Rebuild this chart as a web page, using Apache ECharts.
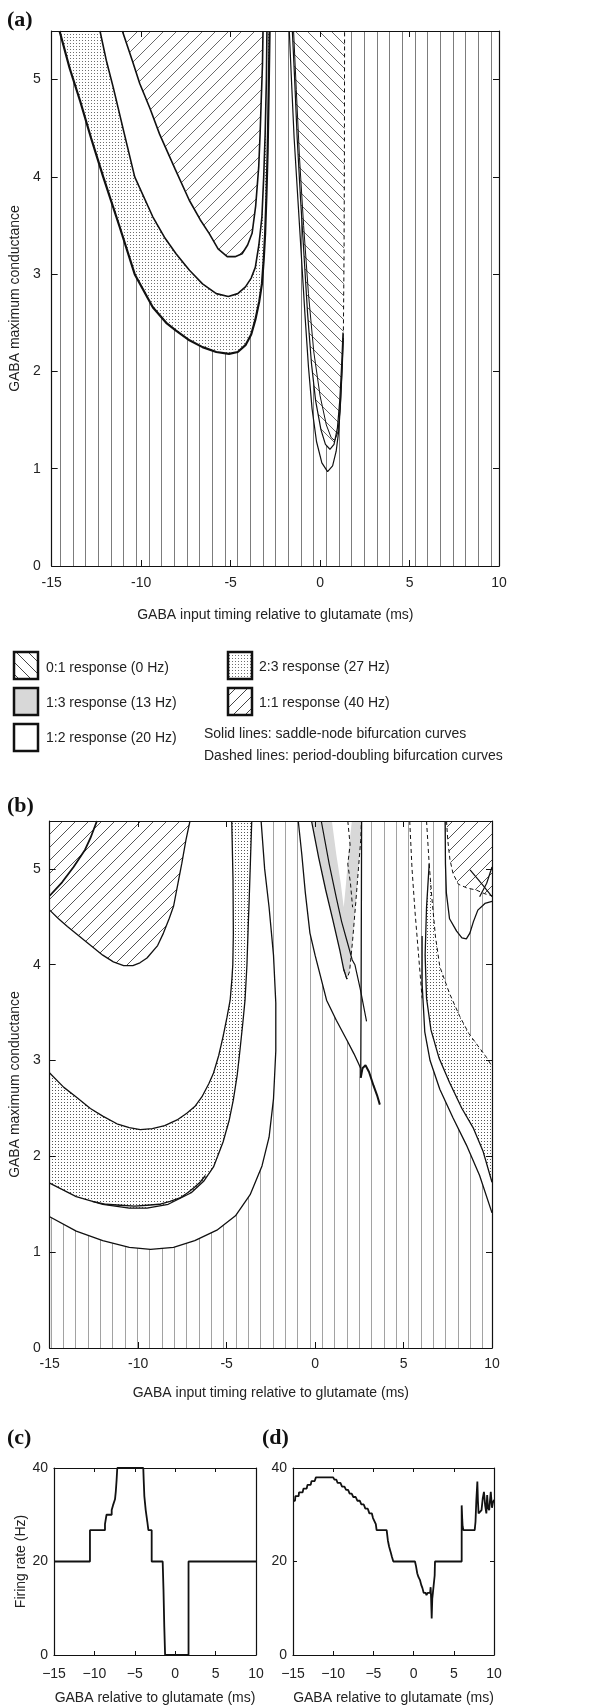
<!DOCTYPE html>
<html>
<head>
<meta charset="utf-8">
<script src="https://cdn.jsdelivr.net/npm/echarts@6/dist/echarts.min.js"></script>
<style>
html, body { margin: 0; padding: 0; background: #fff; }
#main { width: 616px; height: 1708px; }
</style>
</head>
<body>
<div id="main"></div>
<script>
// axis ranges
var xMin = -15, xMax = 10, gMax = 5.5, rateMax = 40;

// ---- panel (a): bifurcation curves, [timing ms, conductance] ----
var aOuter = [[-14.56,5.5],[-14.0,5.12],[-13.41,4.78],[-12.8,4.4],[-12.12,4.0],[-11.19,3.48],[-10.36,3.0],[-9.35,2.66],[-8.6,2.5],[-8.05,2.42],[-7.3,2.32],[-6.57,2.25],[-5.8,2.2],[-5.09,2.18],[-4.6,2.2],[-4.17,2.27],[-3.85,2.38],[-3.62,2.53],[-3.4,2.72],[-3.25,2.9],[-3.15,3.15],[-3.07,3.42],[-3.0,3.8],[-2.93,4.27],[-2.87,4.9],[-2.82,5.5]];
var aMid = [[-12.3,5.5],[-11.95,5.2],[-11.56,4.92],[-10.95,4.45],[-10.36,4.0],[-9.35,3.59],[-8.7,3.38],[-8.05,3.21],[-7.3,3.04],[-6.57,2.9],[-5.8,2.8],[-5.13,2.77],[-4.6,2.8],[-4.17,2.87],[-3.85,2.96],[-3.62,3.07],[-3.42,3.3],[-3.25,3.59],[-3.15,4.0],[-3.07,4.44],[-3.0,5.0],[-2.97,5.5]];
var aInner = [[-11.05,5.5],[-10.5,5.2],[-10.08,4.96],[-9.5,4.7],[-8.97,4.44],[-8.1,4.08],[-7.31,3.76],[-6.7,3.56],[-6.2,3.42],[-5.7,3.26],[-5.19,3.18],[-4.75,3.18],[-4.36,3.21],[-4.05,3.3],[-3.8,3.42],[-3.6,3.7],[-3.43,4.1],[-3.35,4.45],[-3.29,4.78],[-3.22,5.15],[-3.19,5.5]];
var aV1 = [[-1.72,5.5],[-1.6,5.0],[-1.45,4.4],[-1.25,3.8],[-1.05,3.2],[-0.85,2.6],[-0.65,2.05],[-0.45,1.62],[-0.2,1.28],[0.1,1.06],[0.42,0.97],[0.7,1.03],[0.9,1.18],[1.05,1.4],[1.15,1.7],[1.24,2.05],[1.3,2.35]];
var aV2 = [[-1.55,5.5],[-1.42,5.0],[-1.28,4.4],[-1.1,3.8],[-0.9,3.2],[-0.7,2.6],[-0.48,2.08],[-0.25,1.7],[0.05,1.4],[0.3,1.25],[0.55,1.2],[0.78,1.25],[0.97,1.42],[1.1,1.7],[1.2,2.05],[1.28,2.4]];
var aV3 = [[-1.48,5.5],[-1.33,4.9],[-1.15,4.2],[-0.92,3.5],[-0.65,2.8],[-0.35,2.2],[0.0,1.75],[0.35,1.45],[0.62,1.32],[0.82,1.29],[1.0,1.38],[1.12,1.6],[1.22,1.98],[1.3,2.35]];
var aDash = [[1.3,2.35],[1.34,3.2],[1.36,4.2],[1.37,5.5]];

// ---- panel (b) ----
var bLowest = [[-15,1.37],[-13.5,1.22],[-12,1.12],[-10.5,1.05],[-9.3,1.03],[-8,1.05],[-6.8,1.12],[-5.55,1.23],[-4.5,1.38],[-3.67,1.6],[-3.0,1.9],[-2.6,2.2],[-2.35,2.6],[-2.22,3.1],[-2.22,3.6],[-2.35,4.1],[-2.6,4.6],[-2.85,5.0],[-3.05,5.5]];
var bLow = [[-15,1.72],[-13.5,1.58],[-12,1.5],[-10.5,1.46],[-9.5,1.46],[-8.3,1.5],[-7,1.62],[-6.3,1.74],[-5.74,1.89],[-5.2,2.15],[-4.85,2.38],[-4.62,2.59],[-4.4,2.85],[-4.25,3.1],[-4.08,3.4],[-3.96,3.63],[-3.85,4.0],[-3.78,4.4],[-3.72,4.7],[-3.65,5.1],[-3.58,5.5]];
var bUp = [[-15,2.87],[-14.2,2.72],[-13.5,2.62],[-12.7,2.5],[-12,2.42],[-11.2,2.34],[-10.5,2.3],[-9.88,2.28],[-9.2,2.29],[-8.5,2.32],[-7.8,2.38],[-7.25,2.45],[-6.8,2.52],[-6.4,2.62],[-6.0,2.76],[-5.74,2.87],[-5.45,3.05],[-5.2,3.25],[-4.98,3.45],[-4.8,3.63],[-4.7,3.85],[-4.65,4.0],[-4.62,4.33],[-4.64,4.9],[-4.71,5.5]];
var bHatch = [[-15,4.57],[-14.5,4.48],[-14,4.4],[-13.08,4.26],[-12,4.1],[-11.4,4.03],[-10.82,3.99],[-10.3,3.99],[-9.9,4.02],[-9.5,4.07],[-8.9,4.2],[-8.57,4.33],[-8.25,4.48],[-8.0,4.61],[-7.75,4.85],[-7.53,5.06],[-7.3,5.3],[-7.07,5.5]];
var bHatchLine = [[-12.33,5.5],[-12.7,5.32],[-13.0,5.2],[-13.65,5.02],[-14.3,4.86],[-15,4.72]];
var bInner = [[-12.6,1.53],[-11.8,1.5],[-11,1.49],[-10.2,1.48],[-9.5,1.49],[-8.8,1.5],[-8.2,1.53],[-7.6,1.57],[-7.2,1.62],[-6.8,1.68],[-6.5,1.73],[-6.2,1.8]];
var bM2 = [[-0.95,5.5],[-0.75,5.15],[-0.55,4.75],[-0.29,4.33],[0.0,4.1],[0.25,3.92],[0.65,3.63],[1.2,3.42],[1.78,3.22],[2.2,3.07],[2.58,2.92]];
var bVert = [[2.63,5.5],[2.62,4.8],[2.61,4.2],[2.6,3.6],[2.59,3.2],[2.58,2.82]];
var bM2Tail = [[2.58,2.82],[2.68,2.92],[2.85,2.95],[3.05,2.88],[3.3,2.74],[3.5,2.64],[3.66,2.54]];
var bThin = [[2.25,4.0],[2.55,3.75],[2.91,3.41]];
var bGray = [[-0.2,5.5],[0.2,5.12],[0.6,4.78],[1.0,4.47],[1.4,4.15],[1.62,3.95],[1.8,3.85],[1.95,3.93],[2.12,4.25],[2.3,4.65],[2.45,5.0],[2.58,5.3],[2.62,5.5]];
var bGrayHole = [[0.95,5.5],[1.2,5.15],[1.45,4.85],[1.62,4.6],[1.75,4.85],[1.9,5.2],[2.08,5.5]];
var bGrayLine = [[0.35,5.5],[0.8,5.05],[1.2,4.7],[1.5,4.45],[1.8,4.25],[2.1,4.05],[2.25,4.0]];
var bGrayDash = [[1.85,5.5],[1.98,5.25],[1.85,5.05],[2.0,4.85],[2.12,4.6]];
var bRDash = [[5.35,5.5],[5.48,5.0],[5.65,4.55],[5.85,4.1],[6.05,3.65]];
var bRTipDash = [[6.3,5.5],[6.45,5.05]];
var bRDotLower = [[6.45,5.05],[6.3,4.6],[6.22,4.1],[6.3,3.65],[6.55,3.32],[7.0,3.03],[7.6,2.77],[8.3,2.5],[8.93,2.3],[9.5,2.05],[10,1.73]];
var bRDotUpper = [[6.45,5.05],[6.6,4.7],[6.8,4.3],[7.05,3.98],[7.6,3.7],[8.18,3.46],[8.7,3.28],[9.3,3.13],[9.7,3.03],[10,2.94]];
var bRLowest = [[6.05,4.3],[6.05,3.8],[6.2,3.3],[6.5,3.0],[7.05,2.7],[7.8,2.4],[8.55,2.12],[9.3,1.8],[10,1.41]];
var bRHatch = [[7.43,5.5],[7.5,5.3],[7.62,5.1],[7.8,4.95],[8.1,4.84],[8.6,4.8],[9.1,4.78],[9.6,4.74],[10,4.72]];
var bRWave = [[7.35,5.5],[7.37,5.05],[7.42,4.75],[7.6,4.48],[8.0,4.35],[8.3,4.28],[8.55,4.27],[8.75,4.33],[8.95,4.45],[9.2,4.57],[9.6,4.64],[10,4.66]];
var bRX1 = [[8.76,4.99],[9.4,4.85],[10,4.71]];
var bRX2 = [[9.3,4.71],[9.7,4.85],[10,5.02]];

// ---- panel (c) and (d): firing rate (Hz) against timing (ms) ----
var cX = [-15,-10.55,-10.55,-8.69,-8.69,-8.5,-8.5,-7.86,-7.86,-7.7,-7.7,-7.52,-7.45,-7.35,-7.25,-7.17,-3.95,-3.9,-3.82,-3.65,-3.45,-3.32,-2.91,-2.91,-1.55,-1.45,-1.35,-1.25,1.65,1.65,10];
var cY = [20,20,26.7,26.7,28,28,30,30,31,31,32,32,33.3,35,37.5,40,40,37.5,34,31,28.5,26.7,26.7,20,20,14,6,0,0,20,20];
var dX = [-15,-14.75,-14.7,-14.3,-14.25,-13.8,-13.7,-13.3,-13.2,-12.8,-12.7,-12.3,-12.15,-10.0,-9.85,-9.6,-9.45,-9.1,-8.9,-8.6,-8.4,-8.15,-7.95,-7.7,-7.5,-7.2,-7.0,-6.7,-6.5,-6.2,-6.0,-5.7,-5.5,-5.2,-5.05,-4.85,-4.7,-4.6,-3.35,-3.2,-3.05,-2.85,-2.7,-2.52,0.17,0.3,0.45,0.6,0.8,0.95,1.1,1.25,1.5,1.6,1.75,2.05,2.12,2.18,2.25,2.32,2.4,2.55,2.62,2.66,5.98,5.98,6.05,6.1,6.2,7.6,7.7,7.8,7.93,8.0,8.08,8.3,8.45,8.6,8.75,8.9,9.05,9.15,9.25,9.4,9.5,9.6,9.75,9.85,10];
var dY = [33,33,34,34,34.8,34.8,35.6,35.6,36.4,36.4,37.2,37.2,38,38,37.5,37.5,36.8,36.8,36,36,35.3,35.3,34.5,34.5,33.8,33.8,33,33,32.2,32.2,31.3,31.3,30.3,30.3,29.3,29.3,28,26.7,26.7,24.5,23.2,22,21,20,20,19,17.5,16.7,16,15,14.3,13.3,13.3,12.8,13.3,13.3,14.5,12,7.8,12,13.3,13.3,17,20,20,32,29,27.5,26.7,26.7,28.5,33,37.1,33,30.3,30.3,31,33.5,34.9,32,30.3,34.2,31.5,31,33,34.9,31.5,32.5,33.2];

var FONT = '"Liberation Sans", Arial, sans-serif';
var SERIF = '"Liberation Serif", "Times New Roman", serif';

// fill patterns
function pattern(w, h, draw) {
	var c = document.createElement('canvas');
	c.width = w;
	c.height = h;
	var ctx = c.getContext('2d');
	ctx.fillStyle = '#fff';
	ctx.fillRect(0, 0, w, h);
	draw(ctx);
	return { image: c, repeat: 'repeat' };
}
function vlines(w, xs, color) {
	return pattern(w, 4, function(ctx) {
		ctx.fillStyle = color;
		xs.forEach(function(x) { ctx.fillRect(x, 0, 1, 4); });
	});
}
function dots(color) {
	return pattern(3, 3, function(ctx) {
		ctx.fillStyle = color;
		ctx.fillRect(1, 1, 1, 1);
	});
}
function diag(size, color, forward) {
	return pattern(size, size, function(ctx) {
		ctx.strokeStyle = color;
		ctx.lineWidth = 1;
		ctx.beginPath();
		for (var k = -1; k <= 1; k++) {
			if (forward) {
				ctx.moveTo(k * size - 1, size + 1);
				ctx.lineTo(k * size + size + 1, -1);
			} else {
				ctx.moveTo(k * size - 1, -1);
				ctx.lineTo(k * size + size + 1, size + 1);
			}
		}
		ctx.stroke();
	});
}
var vlinesA = vlines(38, [9, 22, 35], '#7c7c7c');
var vlinesB = vlines(37, [1, 14, 26], '#a2a2a2');
var dotsA = dots('#6e6e6e');
var dotsB = dots('#555');
var fwdA = diag(13, '#6a6a6a', true);
var fwdB = diag(13, '#555', true);
var backA = diag(12, '#6a6a6a', false);
var grayFill = '#d8d8d8';

function rev(a) { return a.slice().reverse(); }
function atTop(x) { return [x, gMax]; }
var fullBox = [[xMin, 0], [xMax, 0], [xMax, gMax], [xMin, gMax]];

var regionsA = [
	{ pts: fullBox, fill: vlinesA },
	{ pts: aOuter, fill: dotsA },
	{ pts: aMid, fill: '#fff' },
	{ pts: aInner, fill: fwdA },
	{ pts: aV2.concat(aDash), fill: backA }
];
var regionsB = [
	{ pts: fullBox, fill: vlinesB },
	{ pts: [atTop(xMin)].concat(bLowest), fill: '#fff' },
	{ pts: [atTop(xMin)].concat(bLow), fill: dotsB },
	{ pts: [atTop(xMin)].concat(bUp), fill: '#fff' },
	{ pts: [atTop(xMin)].concat(bHatch), fill: fwdB },
	{ pts: bM2.concat(rev(bVert)), fill: '#fff' },
	{ pts: bGray, fill: grayFill },
	{ pts: bGrayHole, fill: '#fff' },
	{ pts: bRLowest.concat(rev(bRDotLower)), fill: '#fff' },
	{ pts: bRDotLower.concat(rev(bRDotUpper)), fill: dotsB },
	{ pts: bRHatch.concat([atTop(xMax)]), fill: fwdB }
];

function regionSeries(g, regions) {
	return {
		type: 'custom',
		xAxisIndex: g * 2,
		yAxisIndex: g * 2,
		silent: true,
		clip: true,
		z: 1,
		data: regions.map(function(r, i) { return [i]; }),
		renderItem: function(params, api) {
			var r = regions[params.dataIndex];
			return {
				type: 'polygon',
				shape: { points: r.pts.map(function(p) { return api.coord(p); }) },
				style: { fill: r.fill, stroke: null }
			};
		}
	};
}
function curve(g, pts, w, dashed) {
	return {
		type: 'line',
		xAxisIndex: g * 2,
		yAxisIndex: g * 2,
		data: pts,
		symbol: 'none',
		silent: true,
		clip: true,
		z: 3,
		lineStyle: { color: '#111', width: w, type: dashed ? [4, 3] : 'solid' }
	};
}
function zip(xs, ys) {
	return xs.map(function(x, i) { return [x, ys[i]]; });
}

var labelStyle = { fontSize: 14, color: '#222', fontFamily: FONT };
var nameStyle = { fontSize: 14, color: '#222', fontFamily: FONT };
var axisLine = { onZero: false, lineStyle: { color: '#111', width: 1.2 } };
function minusFmt(v) { return v < 0 ? '\u2212' + (-v) : String(v); }

function xPair(g, name, gap, margin, tickLen, fmt) {
	var lbl = Object.assign({ margin: margin }, labelStyle);
	if (fmt) lbl.formatter = fmt;
	return [{
		gridIndex: g, type: 'value', min: xMin, max: xMax, interval: 5, position: 'bottom', z: 10,
		axisLine: axisLine,
		axisTick: { inside: true, length: tickLen, lineStyle: { color: '#111' } },
		axisLabel: lbl,
		splitLine: { show: false },
		name: name, nameLocation: 'middle', nameGap: gap, nameTextStyle: nameStyle
	}, {
		gridIndex: g, type: 'value', min: xMin, max: xMax, interval: 5, position: 'top', z: 10,
		axisLine: axisLine,
		axisTick: { inside: true, length: tickLen, lineStyle: { color: '#111' } },
		axisLabel: { show: false },
		splitLine: { show: false }
	}];
}
function yPair(g, max, step, name, gap, margin, tickLen) {
	return [{
		gridIndex: g, type: 'value', min: 0, max: max, interval: step, position: 'left', z: 10,
		axisLine: axisLine,
		axisTick: { inside: true, length: tickLen, lineStyle: { color: '#111' } },
		axisLabel: Object.assign({ margin: margin, showMaxLabel: max % step === 0 }, labelStyle),
		splitLine: { show: false },
		name: name, nameLocation: 'middle', nameGap: gap, nameTextStyle: nameStyle
	}, {
		gridIndex: g, type: 'value', min: 0, max: max, interval: step, position: 'right', z: 10,
		axisLine: axisLine,
		axisTick: { inside: true, length: tickLen, lineStyle: { color: '#111' } },
		axisLabel: { show: false },
		splitLine: { show: false }
	}];
}

var xTitle = 'GABA input timing relative to glutamate (ms)';
var xTitleShort = 'GABA relative to glutamate (ms)';
var yTitle = 'GABA maximum conductance';

var series = [
	regionSeries(0, regionsA),
	curve(0, aOuter, 2.2), curve(0, aMid, 1.6), curve(0, aInner, 1.6),
	curve(0, aV1, 1.2), curve(0, aV2, 1.2), curve(0, aV3, 1), curve(0, aDash, 1, true),

	regionSeries(1, regionsB),
	curve(1, bLowest, 1.3), curve(1, bLow, 1.3), curve(1, bUp, 1.3), curve(1, bHatch, 1.3),
	curve(1, bHatchLine, 1.8), curve(1, bInner, 1.3), curve(1, bM2, 1.3), curve(1, bVert, 1.3),
	curve(1, bM2Tail, 2), curve(1, bThin, 1.2),
	curve(1, bGray.slice(0, 7), 1.3), curve(1, bGray.slice(5), 1, true),
	curve(1, bGrayLine, 1.2), curve(1, bGrayDash, 1, true),
	curve(1, bRDash, 1, true), curve(1, bRTipDash, 1, true),
	curve(1, bRDotLower, 1.3), curve(1, bRDotUpper, 1, true), curve(1, bRLowest, 1.3),
	curve(1, bRHatch, 1, true), curve(1, bRWave, 1.3), curve(1, bRX1, 1.2), curve(1, bRX2, 1.2),

	curve(2, zip(cX, cY), 1.8),
	curve(3, zip(dX, dY), 1.8)
];

function legendBox(x, y, fill) {
	return { type: 'rect', shape: { x: x, y: y, width: 24, height: 27 }, style: { fill: fill, stroke: '#111', lineWidth: 2.5 }, z: 100 };
}
function legendText(x, y, text) {
	return { type: 'text', x: x, y: y, z: 100, style: { text: text, font: '14px ' + FONT, fill: '#222', textVerticalAlign: 'middle' } };
}
function panelLabel(x, y, text) {
	return { type: 'text', x: x, y: y, z: 100, style: { text: text, font: 'bold 22px ' + SERIF, fill: '#111', textVerticalAlign: 'middle' } };
}

var option = {
	animation: false,
	backgroundColor: '#fff',
	grid: [
		{ left: 48, top: 31, width: 451, height: 535 },
		{ left: 49, top: 821, width: 443, height: 527 },
		{ left: 54, top: 1468, width: 202, height: 187 },
		{ left: 293, top: 1468, width: 201, height: 187 }
	],
	xAxis: [].concat(
		xPair(0, xTitle, 42, 10, 6),
		xPair(1, xTitle, 38, 9, 6),
		xPair(2, xTitleShort, 36, 12, 4, minusFmt),
		xPair(3, xTitleShort, 36, 12, 4, minusFmt)
	),
	yAxis: [].concat(
		yPair(0, gMax, 1, yTitle, 24, 11, 6),
		yPair(1, gMax, 1, yTitle, 24, 9, 6),
		yPair(2, rateMax, 20, 'Firing rate (Hz)', 26, 6, 4),
		yPair(3, rateMax, 20, '', 26, 6, 4)
	),
	series: series,
	graphic: [
		panelLabel(7, 20, '(a)'),
		panelLabel(7, 806, '(b)'),
		panelLabel(7, 1438, '(c)'),
		panelLabel(262, 1438, '(d)'),

		legendBox(14, 652, diag(12, '#444', false)),
		legendBox(14, 688, grayFill),
		legendBox(14, 724, '#fff'),
		{ type: 'line', shape: { x1: 30, y1: 725, x2: 30, y2: 750 }, style: { stroke: '#888', lineWidth: 1.5 }, z: 99 },
		legendBox(228, 652, dotsA),
		legendBox(228, 688, diag(12, '#444', true)),

		legendText(46, 668, '0:1 response (0 Hz)'),
		legendText(46, 703, '1:3 response (13 Hz)'),
		legendText(46, 738, '1:2 response (20 Hz)'),
		legendText(259, 667, '2:3 response (27 Hz)'),
		legendText(259, 703, '1:1 response (40 Hz)'),
		legendText(204, 734, 'Solid lines: saddle-node bifurcation curves'),
		legendText(204, 756, 'Dashed lines: period-doubling bifurcation curves')
	]
};

var chart = echarts.init(document.getElementById('main'));
chart.setOption(option);
</script>
</body>
</html>
